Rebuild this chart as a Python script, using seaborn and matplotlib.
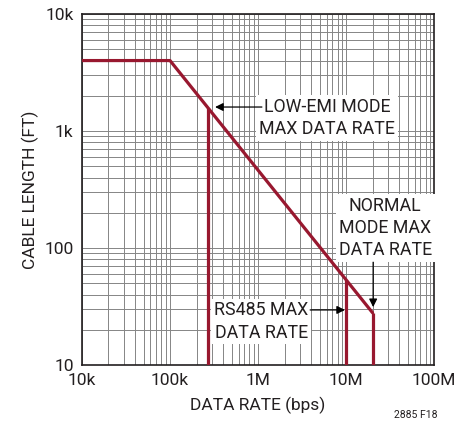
import numpy as np
import matplotlib
matplotlib.use("Agg")
import matplotlib.pyplot as plt
import matplotlib.ticker as mticker
import seaborn as sns
import pandas as pd

sns.set_theme(style="white")
plt.rcParams["font.family"] = ["Roboto", "Liberation Sans", "DejaVu Sans"]

# --- data ---
data_rate = [10e3, 100e3, 20e6]          # bps
cable_ft = [4000, 4000, 28]              # ft
limit_rates = [270e3, 10e6, 20e6]        # low-EMI, RS485, normal mode limits
limit_tops = [1580, 53, 28]
x_ticks = [1e4, 1e5, 1e6, 1e7, 1e8]
x_labels = ["10k", "100k", "1M", "10M", "100M"]
y_ticks = [10, 100, 1000, 10000]
y_labels = ["10", "100", "1k", "10k"]

RED = "#98182f"
GRID = "#858585"
INK = "#231f20"

curve = pd.DataFrame({"rate": data_rate, "length": cable_ft})

fig = plt.figure(figsize=(4.62, 4.24), dpi=100)
ax = fig.add_axes([0.1775, 0.139, 0.762, 0.828])

ax.set_xscale("log")
ax.set_yscale("log")
ax.set_xlim(1e4, 1e8)
ax.set_ylim(10, 1e4)

ax.xaxis.set_minor_locator(mticker.LogLocator(base=10, subs=np.arange(2, 10)))
ax.yaxis.set_minor_locator(mticker.LogLocator(base=10, subs=np.arange(2, 10)))
ax.grid(True, which="both", color=GRID, linewidth=0.7)
ax.set_axisbelow(True)

sns.lineplot(data=curve, x="rate", y="length", sort=False, color=RED,
             linewidth=2.3, ax=ax, zorder=4)
ax.vlines(limit_rates, 10, limit_tops, colors=RED, linewidth=2.3, zorder=4)

ax.set_xticks(x_ticks)
ax.set_xticklabels(x_labels)
ax.set_yticks(y_ticks)
ax.set_yticklabels(y_labels)
ax.xaxis.set_minor_formatter(mticker.NullFormatter())
ax.yaxis.set_minor_formatter(mticker.NullFormatter())
ax.tick_params(which="both", length=0, labelsize=12.5, colors=INK, pad=6)

ax.set_xlabel("DATA RATE (bps)", fontsize=12.5, color=INK, labelpad=6)
ax.set_ylabel("CABLE LENGTH (FT)", fontsize=12.5, color=INK, labelpad=4)

for s in ax.spines.values():
    s.set_color(INK)
    s.set_linewidth(1.2)

box = dict(facecolor="white", edgecolor="none", pad=2)
arrow = dict(arrowstyle="-|>", color="black", lw=0.9, mutation_scale=12,
             shrinkA=0, shrinkB=0)
note = dict(ha="center", va="center", fontsize=12.8, linespacing=1.3,
            color=INK, bbox=box, zorder=5)

ax.text(0.696, 0.704, "LOW-EMI MODE\nMAX DATA RATE", transform=ax.transAxes, **note)
ax.annotate("", xy=(0.378, 0.735), xytext=(0.511, 0.735),
            xycoords="axes fraction", arrowprops=arrow, zorder=6)

ax.text(0.861, 0.390, "NORMAL\nMODE MAX\nDATA RATE", transform=ax.transAxes, **note)
ax.annotate("", xy=(0.827, 0.165), xytext=(0.827, 0.293),
            xycoords="axes fraction", arrowprops=arrow, zorder=6)

ax.text(0.509, 0.124, "RS485 MAX\nDATA RATE", transform=ax.transAxes, **note)
ax.annotate("", xy=(0.747, 0.157), xytext=(0.648, 0.157),
            xycoords="axes fraction", arrowprops=arrow, zorder=6)

fig.text(0.90, 0.021, "2885 F18", ha="center", va="center", fontsize=7.5,
         color=INK)

fig.savefig("out.png", dpi=100, facecolor="white")
